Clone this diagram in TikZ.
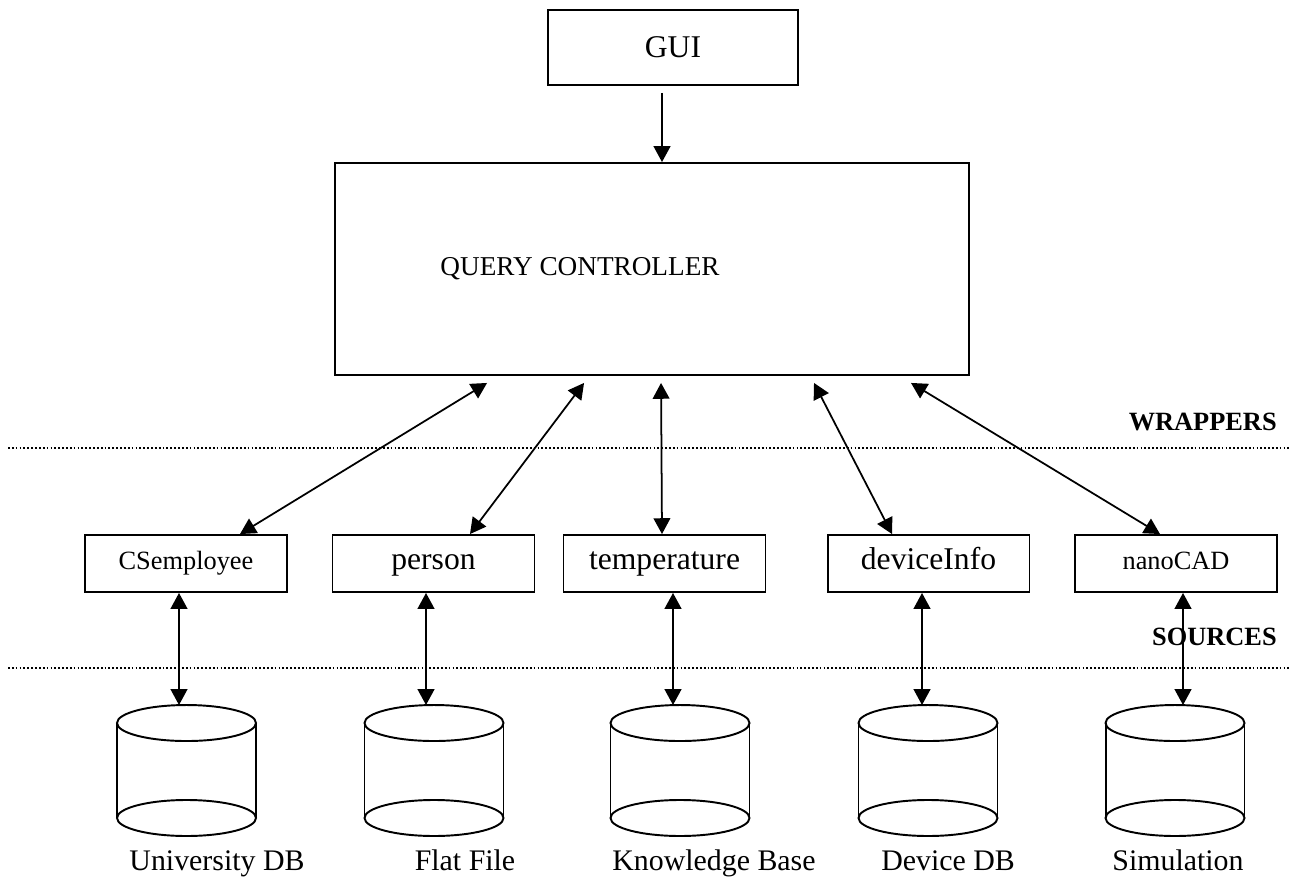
\documentclass[tikz,border=0pt]{standalone}
\usepackage{fontspec}
\setmainfont{Liberation Serif}
\usepackage{tikz}
\usetikzlibrary{positioning, arrows.meta}
\newcommand{\B}[1]{\textbf{#1}}
% cilindro de la fuente, dibujado sobre el nodo #1
\newcommand{\dbcyl}[1]{%
  \draw[cyl] ([yshift=-0.36cm]#1.north) ellipse[x radius=1.39cm, y radius=0.36cm];
  \draw[cyl] ([yshift=0.36cm]#1.south) ellipse[x radius=1.39cm, y radius=0.36cm];
  \draw[cyl] ([yshift=-0.36cm]#1.north west) -- ([yshift=0.36cm]#1.south west);
  \draw[cyl] ([yshift=-0.36cm]#1.north east) -- ([yshift=0.36cm]#1.south east);}

\begin{document}
\begin{tikzpicture}[x=0.02cm, y=-0.02cm,
    bigbox/.style={draw, line width=1.1pt, inner sep=0pt},
    wrapbox/.style={draw, line width=1.1pt, inner sep=0pt, minimum width=4.04cm, minimum height=1.14cm,
                    text height=0.8em, text depth=0.07em, font=\fontsize{18}{20}\selectfont},
    smalltext/.style={font=\fontsize{15}{18}\selectfont},
    dbspace/.style={inner sep=0pt, outer sep=0pt, minimum width=2.78cm, minimum height=2.62cm},
    dblabel/.style={anchor=base, inner sep=0pt, font=\fontsize{17}{20}\selectfont},
    layer/.style={anchor=base east, inner sep=0pt, font=\fontsize{15}{18}\selectfont\bfseries},
    cyl/.style={line width=1.1pt},
    sepline/.style={line width=0.8pt, dash pattern=on 1pt off 1.2pt},
    uniarrow/.style={line width=1pt, -{Triangle[length=9pt, width=9.5pt]}},
    biarrow/.style={line width=1pt, {Triangle[length=9pt, width=9.5pt]}-{Triangle[length=9pt, width=9.5pt]}}]
        \useasboundingbox (0,0) rectangle (1290,876);

        % GUI y controlador
        \node[bigbox, minimum width=5cm, minimum height=1.5cm, font=\fontsize{18}{20}\selectfont] (gui) at (673,47.5) {GUI};
        \node[bigbox, minimum width=12.68cm, minimum height=4.24cm,
              label={[xshift=-1.44cm, font=\fontsize{15.5}{18}\selectfont]center:QUERY CONTROLLER}] (qc) at (652,269) {};
        \draw[uniarrow] ([xshift=-0.22cm, yshift=-0.14cm]gui.south) -- ([xshift=-0.22cm]gui.south |- qc.north);

        % Líneas de capas
        \draw[sepline] (8,448) -- (1290,448);
        \draw[sepline] (8,668) -- (1290,668);
        \node[layer] (wrappers) at (1277,430) {WRAPPERS};
        \node[layer] (sources) at (1277,645) {SOURCES};

        %######## Wrappers #############
        \node[wrapbox, smalltext] (csemp) at (186,563.5) {CSemployee};
        \node[wrapbox] (person) at (433.5,563.5) {person};
        \node[wrapbox] (temp) at (664.5,563.5) {temperature};
        \node[wrapbox] (devinfo) at (928.5,563.5) {deviceInfo};
        \node[wrapbox, smalltext] (nanocad) at (1176,563.5) {nanoCAD};

        \draw[biarrow] ([xshift=3.06cm, yshift=-0.14cm]qc.south west) -- ([xshift=1.08cm]csemp.north);
        \draw[biarrow] ([xshift=5.0cm, yshift=-0.14cm]qc.south west) -- ([xshift=0.73cm]person.north);
        \draw[biarrow] ([xshift=6.54cm, yshift=-0.14cm]qc.south west) -- ([xshift=-0.05cm]temp.north);
        \draw[biarrow] ([xshift=9.6cm, yshift=-0.14cm]qc.south west) -- ([xshift=-0.73cm]devinfo.north);
        \draw[biarrow] ([xshift=11.54cm, yshift=-0.14cm]qc.south west) -- ([xshift=-0.32cm]nanocad.north);

        %######## Fuentes #############
        \node[dbspace] (univ) at (186.5,770.5) {};
        \node[dbspace] (flat) at (434,770.5) {};
        \node[dbspace] (kb) at (680,770.5) {};
        \node[dbspace] (devdb) at (928,770.5) {};
        \node[dbspace] (sim) at (1175,770.5) {};
        \dbcyl{univ} \dbcyl{flat} \dbcyl{kb} \dbcyl{devdb} \dbcyl{sim}

        \node[dblabel] (univlbl) at (217,870) {University DB};
        \node[dblabel] (flatlbl) at (465,870) {Flat File};
        \node[dblabel] (kblbl) at (714,870) {Knowledge Base};
        \node[dblabel] (devdblbl) at (948,870) {Device DB};
        \node[dblabel] (simlbl) at (1178,870) {Simulation};

        \draw[biarrow] ([xshift=-0.14cm]csemp.south) -- ([xshift=-0.14cm]csemp.south |- univ.north);
        \draw[biarrow] ([xshift=-0.15cm]person.south) -- ([xshift=-0.15cm]person.south |- flat.north);
        \draw[biarrow] ([xshift=0.17cm]temp.south) -- ([xshift=0.17cm]temp.south |- kb.north);
        \draw[biarrow] ([xshift=-0.13cm]devinfo.south) -- ([xshift=-0.13cm]devinfo.south |- devdb.north);
        \draw[biarrow] ([xshift=0.14cm]nanocad.south) -- ([xshift=0.14cm]nanocad.south |- sim.north);
\end{tikzpicture}
\end{document}
